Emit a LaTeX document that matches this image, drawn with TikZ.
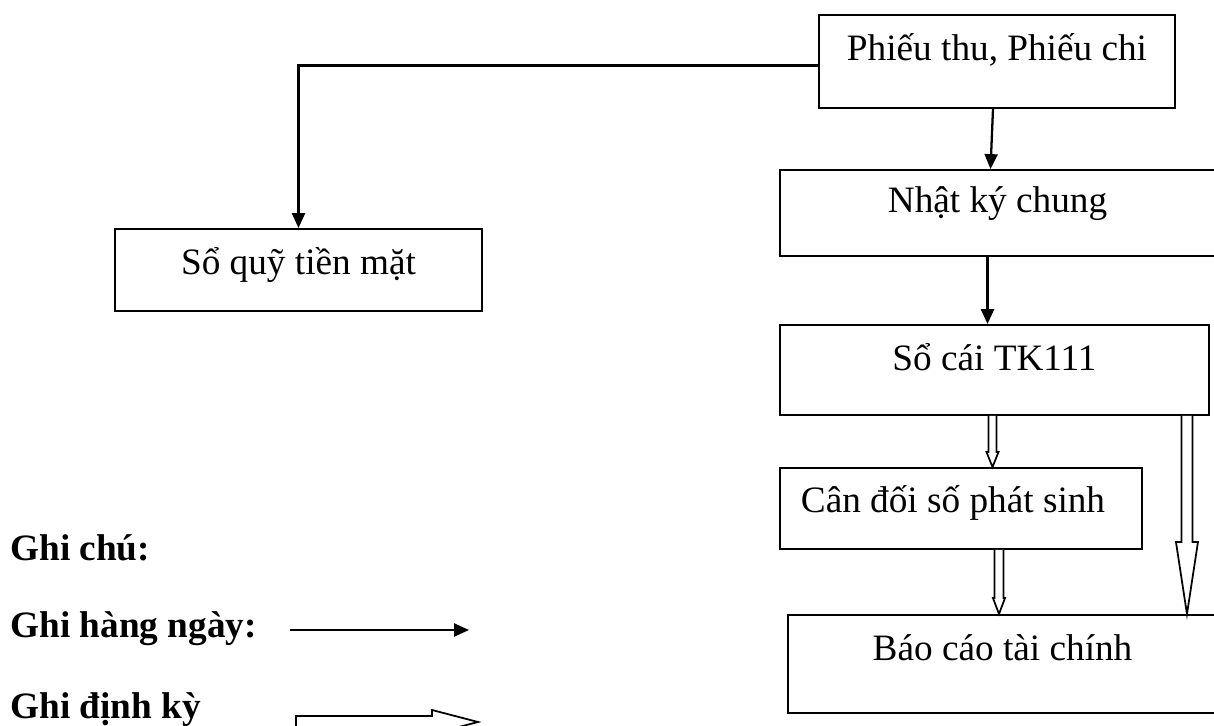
\documentclass[tikz,border=0pt]{standalone}
\usepackage{fontspec}
\setmainfont{Liberation Serif}
\usetikzlibrary{arrows.meta}
\usetikzlibrary{calc}
\newcommand{\pxu}{0.02cm}
\tikzset{
    Box/.style = {rectangle, draw=black, line width=1.1pt, inner sep=0pt, align=center},
    BoxSize/.style n args = {3}{minimum width=#1*\pxu, text height=#2*\pxu, text depth=#3*\pxu}
}
\tikzset{
    Edge/.style = {draw=black, line width=1.3pt, -{Triangle[length=8.5pt,width=7.4pt]}},
    Hollow/.style = {draw=black, line width=1pt, fill=white}
}
% hollow arrows: from, to, half shaft, half head, head length (px)
\newcommand{\HollowDown}[5]{%
  \draw[Hollow] ($(#1)+(-#3,0)$) -- ($(#1|-#2)+(-#3,-#5)$) -- ($(#1|-#2)+(-#4,-#5)$)
    -- (#1|-#2) -- ($(#1|-#2)+(#4,-#5)$) -- ($(#1|-#2)+(#3,-#5)$) -- ($(#1)+(#3,0)$);
}
\newcommand{\HollowRight}[5]{%
  \draw[Hollow] ($(#1)+(0,-#3)$) -- ($(#1-|#2)+(-#5,-#3)$) -- ($(#1-|#2)+(-#5,-#4)$)
    -- (#1-|#2) -- ($(#1-|#2)+(-#5,#4)$) -- ($(#1-|#2)+(-#5,#3)$) -- ($(#1)+(0,#3)$) -- cycle;
}

\begin{document}
\begin{tikzpicture}[
    x=0.02cm, y=-0.02cm,
    font=\fontsize{21.2}{25}\selectfont
]
\tikzset{
    Note/.style = {anchor=base west, inner sep=0pt, font=\fontsize{21.2}{25}\selectfont\bfseries}
}
\clip (0,0) rectangle (1214,726);

\node[Box, BoxSize={356}{46}{47}] at (997,61.5) (phieu) {Phiếu thu, Phiếu chi};
\node[Box, BoxSize={435}{43}{43}] at (997.5,213) (nhatky) {Nhật ký chung};
\node[Box, BoxSize={367}{46}{36}] at (298.5,270) (soquy) {Sổ quỹ tiền mặt};
\node[Box, BoxSize={429}{45}{45}] at (994.5,370) (socai) {Sổ cái TK111};
\node[Box, BoxSize={362}{44}{37}] at (961,508.5) (candoi) {\hspace*{-0.32cm}Cân đối số phát sinh};
\node[Box, BoxSize={429}{45}{53}] at (1002.5,664) (baocao) {Báo cáo tài chính};

\node[Note] at (10,560) (ghichu) {Ghi chú:};
\node[Note] at (10,637) (hangngay) {Ghi hàng ngày:};
\node[Note] at (10,718) (dinhky) {Ghi định kỳ};

% daily flow
\draw[Edge] ($(phieu.west)+(0,4)$) -| (soquy.north);
\path ($(phieu.south)+(-4,0)$) edge [Edge] ($(nhatky.north)+(-7,0)$);
\path ($(nhatky.south)+(-10,0)$) edge [Edge] ($(socai.north)+(-7,0)$);

% periodic flow
\coordinate (sa) at ($(socai.south)+(-2,0)$);
\coordinate (sb) at ($(socai.south east)+(-23,0)$);
\coordinate (cb) at ($(candoi.south)+(38,0)$);
\HollowDown{sa}{candoi.north}{4}{6}{15}
\HollowDown{cb}{baocao.north}{4.5}{6}{16}
\HollowDown{sb}{baocao.north}{5.5}{11}{72}

% legend
\coordinate (la) at (290,630);
\coordinate (lb) at (469,630);
\path (la) edge [Edge] (lb);
\coordinate (pa) at (296,722);
\coordinate (pb) at (478,722);
\HollowRight{pa}{pb}{6}{12}{46}
\end{tikzpicture}
\end{document}
